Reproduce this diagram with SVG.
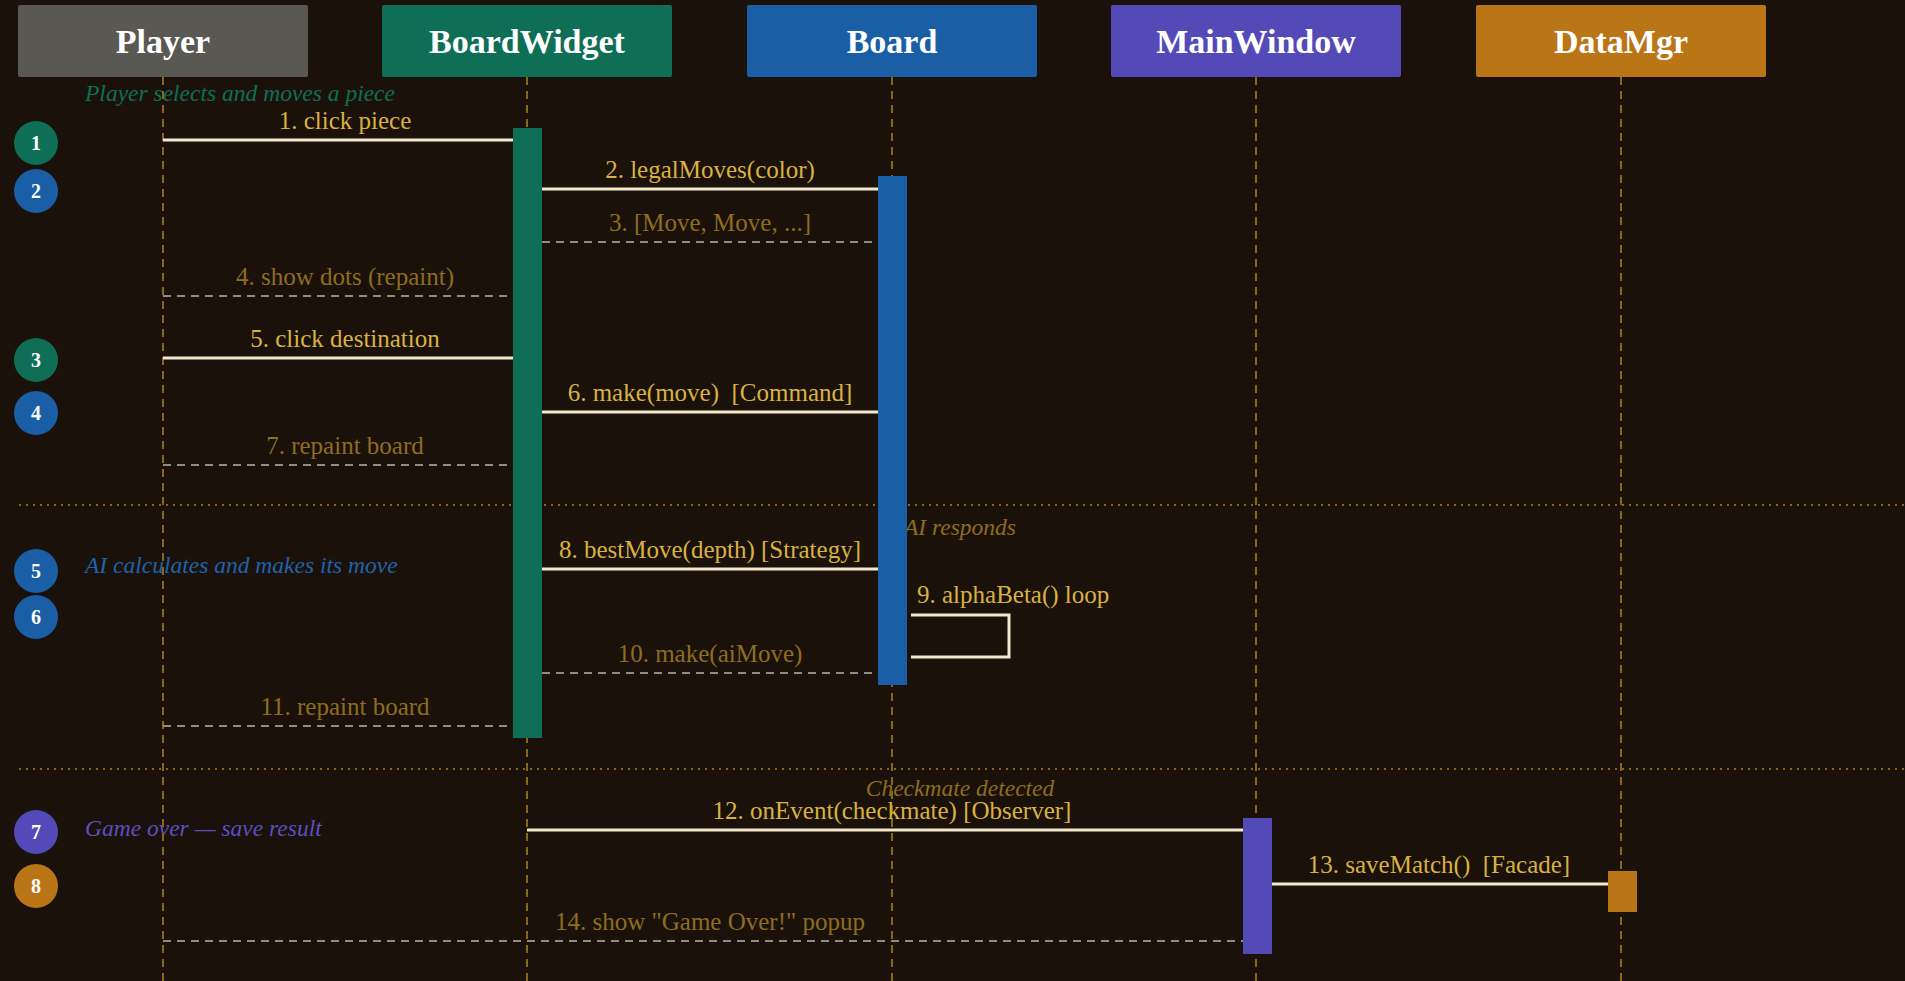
<svg xmlns="http://www.w3.org/2000/svg" width="1905" height="981" viewBox="0 0 1905 981">
<style>
.hdr{font-family:"Liberation Serif","Times New Roman",serif;font-weight:bold;font-size:34px;fill:#ffffff;text-anchor:middle}
.life{stroke:#8a6616;stroke-width:2;stroke-dasharray:8 6;fill:none}
.msg{stroke:#f2e8cc;stroke-width:3;fill:none}
.ret{stroke:#8e8c84;stroke-width:2;stroke-dasharray:8 6;fill:none}
.lbl{font-family:"Liberation Serif","Times New Roman",serif;font-size:25px;fill:#d9b141;text-anchor:middle}
.dim{font-family:"Liberation Serif","Times New Roman",serif;font-size:25px;fill:#8f6c1f;text-anchor:middle}
.sec{font-family:"Liberation Serif","Times New Roman",serif;font-style:italic;font-size:23.5px}
.sep{stroke:#8a6616;stroke-width:2;stroke-dasharray:2 5;fill:none}
.badge text{font-family:"Liberation Serif","Times New Roman",serif;font-weight:bold;font-size:20px;fill:#ffffff;text-anchor:middle}
</style>
<rect x="0" y="0" width="1905" height="981" fill="#1a120a"/>

<g id="separators">
<line class="sep" x1="19" y1="505" x2="1905" y2="505"/>
<line class="sep" x1="19" y1="769" x2="1905" y2="769"/>
</g>

<g id="sections">
<text class="sec" x="85" y="101" fill="#0f6e56">Player selects and moves a piece</text>
<text class="sec" x="85" y="573" fill="#1f62ab">AI calculates and makes its move</text>
<text class="sec" x="85" y="836" fill="#5a4fc0">Game over — save result</text>
<text class="sec" x="960" y="535" fill="#8f6c1f" text-anchor="middle">AI responds</text>
<text class="sec" x="960" y="796" fill="#8f6c1f" text-anchor="middle">Checkmate detected</text>
</g>

<g id="lifelines">
<line class="life" x1="163" y1="77" x2="163" y2="981"/>
<line class="life" x1="527" y1="77" x2="527" y2="981"/>
<line class="life" x1="892" y1="77" x2="892" y2="981"/>
<line class="life" x1="1256" y1="77" x2="1256" y2="981"/>
<line class="life" x1="1621" y1="77" x2="1621" y2="981"/>
</g>

<g id="connectors">
<line class="msg" x1="163" y1="140" x2="513" y2="140"/>
<text class="lbl" x="345" y="129">1. click piece</text>
<line class="msg" x1="542" y1="189" x2="878" y2="189"/>
<text class="lbl" x="710" y="178">2. legalMoves(color)</text>
<line class="ret" x1="542" y1="242" x2="878" y2="242"/>
<text class="dim" x="710" y="231">3. [Move, Move, ...]</text>
<line class="ret" x1="163" y1="296" x2="513" y2="296"/>
<text class="dim" x="345" y="285">4. show dots (repaint)</text>
<line class="msg" x1="163" y1="358" x2="513" y2="358"/>
<text class="lbl" x="345" y="347">5. click destination</text>
<line class="msg" x1="542" y1="412" x2="878" y2="412"/>
<text class="lbl" x="710" y="401">6. make(move)&#160; [Command]</text>
<line class="ret" x1="163" y1="465" x2="513" y2="465"/>
<text class="dim" x="345" y="454">7. repaint board</text>
<line class="msg" x1="542" y1="569" x2="878" y2="569"/>
<text class="lbl" x="710" y="558">8. bestMove(depth) [Strategy]</text>
<polyline class="msg" points="911,615 1009,615 1009,657 911,657"/>
<text class="lbl" x="917" y="603" style="text-anchor:start">9. alphaBeta() loop</text>
<line class="ret" x1="542" y1="673" x2="878" y2="673"/>
<text class="dim" x="710" y="662">10. make(aiMove)</text>
<line class="ret" x1="163" y1="726" x2="513" y2="726"/>
<text class="dim" x="345" y="715">11. repaint board</text>
<line class="msg" x1="527" y1="830" x2="1243" y2="830"/>
<text class="lbl" x="892" y="819">12. onEvent(checkmate) [Observer]</text>
<line class="msg" x1="1272" y1="884" x2="1608" y2="884"/>
<text class="lbl" x="1439" y="873">13. saveMatch()&#160; [Facade]</text>
<line class="ret" x1="163" y1="941" x2="1243" y2="941"/>
<text class="dim" x="710" y="930">14. show "Game Over!" popup</text>
</g>

<g id="Player">
<rect x="18" y="5" width="290" height="72" rx="2" fill="#595852"/>
<text class="hdr" x="163" y="53">Player</text>
</g>
<g id="BoardWidget">
<rect x="382" y="5" width="290" height="72" rx="2" fill="#0f6e56"/>
<text class="hdr" x="527" y="53">BoardWidget</text>
<rect x="513" y="128" width="29" height="610" fill="#0f6e56"/>
</g>
<g id="Board">
<rect x="747" y="5" width="290" height="72" rx="2" fill="#1a5fa6"/>
<text class="hdr" x="892" y="53">Board</text>
<rect x="878" y="176" width="29" height="509" fill="#1a5fa6"/>
</g>
<g id="MainWindow">
<rect x="1111" y="5" width="290" height="72" rx="2" fill="#534ab7"/>
<text class="hdr" x="1256" y="53">MainWindow</text>
<rect x="1243" y="818" width="29" height="136" fill="#534ab7"/>
</g>
<g id="DataMgr">
<rect x="1476" y="5" width="290" height="72" rx="2" fill="#ba7517"/>
<text class="hdr" x="1621" y="53">DataMgr</text>
<rect x="1608" y="871" width="29" height="41" fill="#ba7517"/>
</g>

<g id="badges" class="badge">
<circle cx="36" cy="143" r="22" fill="#0f6e56"/><text x="36" y="150">1</text>
<circle cx="36" cy="191" r="22" fill="#1a5fa6"/><text x="36" y="198">2</text>
<circle cx="36" cy="360" r="22" fill="#0f6e56"/><text x="36" y="367">3</text>
<circle cx="36" cy="413" r="22" fill="#1a5fa6"/><text x="36" y="420">4</text>
<circle cx="36" cy="571" r="22" fill="#1a5fa6"/><text x="36" y="578">5</text>
<circle cx="36" cy="617" r="22" fill="#1a5fa6"/><text x="36" y="624">6</text>
<circle cx="36" cy="832" r="22" fill="#534ab7"/><text x="36" y="839">7</text>
<circle cx="36" cy="886" r="22" fill="#ba7517"/><text x="36" y="893">8</text>
</g>
</svg>
